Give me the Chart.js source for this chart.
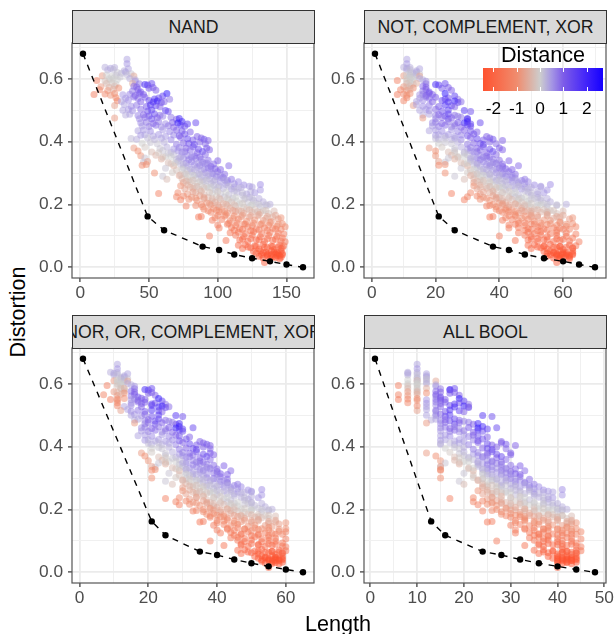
<!DOCTYPE html>
<html>
<head>
<meta charset="utf-8">
<title>Distortion vs Length</title>
<script src="https://cdn.jsdelivr.net/npm/chart.js@4"></script>
<style>
  body { margin: 0; background: #fff; font-family: "Liberation Sans", Arial, sans-serif; }
  #page { position: relative; width: 615px; height: 634px; overflow: hidden; }
  canvas { position: absolute; }
  .strip { position: absolute; box-sizing: border-box; width: 243px; height: 34px; background: #d9d9d9;
           border: 1.5px solid #333; overflow: hidden; color: #1a1a1a; font-size: 17.7px; }
  .strip span { position: absolute; left: 50%; top: 50%; transform: translate(-50%, -50%); white-space: nowrap; }
  .title { position: absolute; color: #000; font-size: 21.6px; white-space: nowrap; }
  #legendBar { position: absolute; left: 483px; top: 68px; width: 120px; height: 23px; }
  .legendLabel { position: absolute; top: 98px; font-size: 17.3px; color: #000; transform: translateX(-50%); }
  .legendTick { position: absolute; width: 1px; height: 4px; background: #fff; }
</style>
</head>
<body>
<div id="page"></div>
<script>
// Valeurs: une ligne = une bande de Distortion
const distortion = [
  .662,
  .648,
  .637,.634,.636,
  .628,.63,.626,.632,
  .62,.618,.622,.616,
  .61,.612,.608,.611,.606,.613,.609,
  .6,.602,.598,.601,.597,
  .595,.593,.596,.592,
  .585,.587,.583,.586,.584,.582,.58,.585,
  .575,.573,.577,.571,.576,.574,.57,.572,
  .565,.563,.567,.561,.566,.558,.564,
  .55,.552,.548,.553,.549,.551,.547,.554,.55,.553,.545,
  .54,.538,.542,.537,.541,.536,.539,.535,
  .53,.528,.532,.527,.531,.526,.529,.525,.527,
  .515,.518,.513,.516,.512,.517,.514,.511,
  .5,.502,.498,.503,.497,.501,.499,.496,
  .485,.487,.483,.486,.482,.488,.484,.481,
  .475,.473,.477,.472,.476,.478,.471,.474,
  .46,.462,.458,.463,.457,.461,.459,.464,.456,.46,
  .45,.448,.452,.447,.451,.446,.453,.449,
  .435,.437,.433,.438,.432,.436,.434,.431,
  .42,.422,.418,.423,.417,.421,.419,.424,.416,
  .41,.408,.412,.407,.411,.406,.413,.409,.405,.412,.408,.404,
  .395,.397,.393,.398,.392,.396,.394,.391,.399,.393,
  .38,.382,.378,.383,.377,.381,.379,.384,.376,.38,
  .37,.367,.372,.366,.371,.368,.373,.365,.369,.374,
  .355,.357,.353,.358,.352,.356,.354,.351,.359,
  .345,.348,.343,.347,.342,.346,.344,.341,
  .335,.337,.333,.338,.332,.336,.334,.331,.339,
  .325,.327,.323,.328,.322,.326,.324,.321,.329,.323,
  .315,.317,.313,.318,.312,.316,.314,.311,
  .3,.302,.298,.303,.297,.301,.299,.304,.296,
  .29,.292,.288,.293,.287,.291,.289,.286,
  .28,.282,.278,.283,.277,.281,.279,.284,.276,.28,
  .27,.272,.268,.273,.267,.271,.269,.266,
  .26,.262,.258,.263,.257,.261,.259,.264,.262,.258,.264,.256,
  .25,.252,.248,.253,.247,.251,.249,.254,.246,
  .235,.237,.233,.238,.232,.236,.234,.231,.239,.233,.237,
  .225,.227,.223,.228,.222,.226,.224,.221,.229,.223,
  .215,.217,.213,.218,.212,.216,.214,.211,.219,.213,
  .205,.207,.203,.208,.202,.206,.204,.209,.201,
  .195,.197,.193,.198,.192,.196,.194,.191,.199,.193,.197,
  .185,.187,.183,.188,.182,.186,.184,.181,
  .175,.177,.173,.178,.172,.176,.174,.171,
  .16,.162,.158,.163,.157,.161,.159,.164,.156,.16,.158,
  .15,.152,.148,.153,.147,.151,.149,.146,.154,
  .135,.137,.133,.138,.132,.136,.134,.131,.139,
  .125,.127,.123,.128,.122,.126,.124,.121,.129,
  .11,.112,.108,.113,.107,.111,.109,.106,
  .1,.102,.098,.103,.097,.101,.099,
  .085,.087,.083,.088,.082,.086,.084,.081,
  .07,.072,.068,.073,.067,.071,.069,
  .06,.062,.058,.063,.057,.061,
  .05,.052,.048,.053,.047,.051,
  .045,.046,.043,.047,.042,.044,
  .035,.037,.033,.038,.032,
  .03,.028,.031,.027,
  .015,
  .365,.363,.367,
  .35,.352,.348,.351,
  .33,.332,.328,.331,.329,
  .31,.312,.308,.311,.309,.313,
  .295,.297,.293,.296,.294,.298,.292,
  .275,.277,.273,.276,.274,.278,.272,
  .255,.257,.253,.256,.254,.258,.252,.256,
  .24,.242,.238,.241,.239,.243,.237,.241,
  .22,.222,.218,.221,.219,.223,.217,.221,.219,
  .2,.202,.198,.201,.199,.203,.197,.201,.199,
  .18,.182,.178,.181,.179,.183,.177,.181,.179,
  .165,.167,.163,.166,.164,.168,.162,.166,
  .14,.142,.138,.141,.139,.143,.137,
  .118,.12,.116,.119,.117,.121,
  .09,.092,.088,.091,.089,.093,
  .065,.067,.063,.066,.064,.062,
  .04,.041,.039,.042,.038,.04
];
const distance = [
  .4,
  .5,
  .3,.4,.3,
  .3,.2,.3,.4,
  .1,.2,.4,.1,
  -.8,0,0,.1,.1,.2,-.6,
  0,0,0,.3,.3,
  -1.3,-.2,0,.5,
  -.3,-.1,0,-.5,.8,2,1.6,1.4,
  -.8,-.4,-.3,-1,.9,1,1.2,1.1,
  -1.2,-.8,-.5,.8,1,1.2,1,
  -1.4,-1.1,-.9,-1,.5,.7,1,1.1,1.1,2.4,1.6,
  -1.1,.5,.9,.9,1.1,1.7,1.3,.8,
  -1.2,.4,.6,1,1.4,1.8,2.1,1.5,.9,
  -.7,.4,.6,.8,1.2,1.8,1.5,1,
  .4,.5,.6,.9,1.3,1.6,1.7,1.3,
  .3,.4,.7,1,1.3,1.4,.9,.7,
  -.8,.6,.9,1.3,1,.8,1,2,
  .6,.8,1,.8,.6,1.1,2.3,2,1.6,1.4,
  .5,.8,.9,.6,.8,1,1.6,1.3,
  .4,.5,.6,.5,.7,1,1.2,1,
  .5,.4,.4,.5,.5,.7,1.2,1.2,1,
  .2,.3,.2,.3,.4,.7,1,1.4,1.1,1,1.2,1,
  0,.1,.1,.3,.8,1,1.3,1.4,1,.9,
  -.8,-.1,.1,.3,.5,.7,1,1.2,1.3,1.1,
  -1,-.3,.1,.3,.6,.8,.9,1,1.4,1,
  -.9,-.4,0,.2,.5,.7,.9,.9,.9,
  -.5,.1,.2,.5,.8,.8,.8,.9,
  .1,-.7,-.3,.3,.6,.7,.7,.7,1,
  -1.1,-1,-.5,.2,.4,.6,.8,1,.9,.9,
  .1,.2,.4,.5,.6,.8,1.1,1,
  -1,-.1,.1,.3,.4,.6,.9,.9,.9,
  .1,-.6,0,.2,.3,.4,.7,.8,
  -.3,-.4,-.1,.1,.3,.4,.5,.6,.7,.8,
  -.7,-.2,0,.2,.3,.5,.6,.5,
  -.9,-.5,-.2,0,.1,.3,.3,.4,.6,.5,.6,.4,
  -.7,-.4,-.1,0,.2,.3,.5,.3,.5,
  -1.3,-1.1,-.8,-.5,-.3,0,.1,.2,.3,.4,.5,
  -1.2,-1.1,-.8,-.7,-.4,-.1,.1,.1,.2,.3,
  -1.3,-1,-.9,-.6,-.3,-.3,0,0,.1,.2,
  -.9,-.6,-.5,-.2,0,.1,.1,.3,.3,
  -1.3,-1.1,-1,-.8,-.7,-.4,-.2,-.1,0,.1,.1,
  -1,-1,-.9,-.6,-.4,-.3,-.2,-.1,
  -1.2,-1.1,-.8,-.7,-.6,-.4,-.3,-.2,
  -1.5,-1.4,-1.2,-1,-.9,-.8,-.7,-.6,-.5,-.5,-.9,
  -1.4,-1.3,-1.1,-1.1,-1,-.9,-.8,-.8,-.8,
  -1.4,-1.4,-1.3,-1.2,-1.2,-1.1,-1,-1.1,-1,
  -1.4,-1.5,-1.5,-1.4,-1.4,-1.3,-1.2,-1.2,-1.1,
  -1.5,-1.5,-1.6,-1.6,-1.5,-1.4,-1.4,-1.3,
  -1.4,-1.6,-1.7,-1.7,-1.7,-1.6,-1.6,
  -1.6,-1.7,-1.8,-1.9,-1.8,-1.8,-1.6,-1.4,
  -1.8,-1.9,-2,-2,-2,-1.9,-1.6,
  -1.8,-2,-2.1,-2.1,-2.1,-2,
  -2.2,-2.2,-2.2,-2.2,-2.2,-2.2,
  -2.2,-2.3,-2.3,-2.4,-2.4,-2.3,
  -2.3,-2.3,-2.4,-2.4,-2.4,
  -2.4,-2.4,-2.4,-2.4,
  -2.2,
  -.1,.1,.6,
  -.2,0,.3,.7,
  -.2,0,.3,.5,.6,
  -.2,0,.1,.3,.4,.7,
  -.3,-.1,0,.2,.3,.5,.6,
  -.4,-.2,-.1,.1,.2,.4,.6,
  -.5,-.3,-.2,0,.1,.2,.3,.4,
  -.7,-.5,-.2,-.1,0,.2,.2,.3,
  -.9,-.7,-.4,-.3,-.1,0,.1,.2,.3,
  -1,-.8,-.6,-.5,-.3,-.1,0,.1,.2,
  -1.1,-1,-.9,-.7,-.5,-.4,-.3,-.2,-.3,
  -1.2,-1.1,-1,-.8,-.7,-.6,-.6,-.6,
  -1.3,-1.3,-1.2,-1.1,-1,-1,-.9,
  -1.5,-1.5,-1.5,-1.4,-1.3,-1.3,
  -1.8,-1.8,-1.8,-1.7,-1.7,-1.5,
  -2,-2.1,-2.1,-2.1,-2,-1.9,
  -2.4,-2.4,-2.4,-2.4,-2.4,-2.3
];
const nandLength = [
  34,
  34,
  18,22,25,
  20,24,32,35,
  27,30,33,37,
  16,19,23,26,29,34,39,
  21,24,27,36,40,
  12,18,22,40,
  19,23,26,38,43,47,49,52,
  15,21,25,28,39,41,50,53,
  14,20,24,38,42,44,55,
  10,18,22,25,31,36,40,43,46,63,60,
  26,33,39,42,47,54,57,65,
  27,30,35,44,50,53,56,59,61,
  25,32,37,41,48,51,55,58,
  31,35,38,44,49,52,62,64,
  33,36,42,46,50,54,58,60,
  25,43,47,52,56,66,70,72,
  44,48,53,57,62,67,71,74,78,84,
  45,50,55,59,64,68,73,76,
  42,46,51,60,65,70,74,80,
  44,47,53,57,62,68,72,76,85,
  37,41,49,54,59,66,73,78,82,88,90,93,
  45,51,56,61,70,75,79,83,87,91,
  39,47,58,63,68,72,77,82,86,92,
  42,52,60,66,71,76,80,85,89,94,
  44,55,62,68,73,78,83,87,91,
  59,47,70,75,79,84,88,93,
  46,49,64,71,77,81,89,92,100,
  45,48,68,73,78,83,87,95,97,108,
  62,75,80,85,90,93,98,102,
  54,67,76,81,86,91,96,100,105,
  60,72,78,83,88,93,99,104,
  63,74,79,84,89,94,98,103,107,110,
  75,80,85,90,95,102,107,112,
  73,78,83,88,92,97,101,106,119,123,131,112,
  76,82,87,93,98,104,110,117,131,
  57,71,78,84,90,96,102,108,114,121,127,
  70,75,81,87,93,99,105,111,118,123,
  73,79,85,90,96,102,108,114,120,126,
  92,98,104,110,116,122,128,133,138,
  77,84,89,95,101,107,113,119,125,131,136,
  90,97,103,109,115,121,127,133,
  95,101,107,113,119,125,131,137,
  86,88,98,105,111,117,123,129,135,140,146,
  96,103,109,115,121,127,133,139,144,
  100,107,113,119,125,131,137,143,147,
  101,110,116,122,128,134,140,146,149,
  109,115,120,126,132,138,144,148,
  94,113,119,125,131,137,143,
  106,116,122,128,134,140,146,149,
  115,120,127,133,139,145,148,
  118,124,130,136,141,146,
  126,131,135,139,143,146,
  128,133,137,141,144,147,
  130,136,140,143,146,
  133,138,142,145,
  134,
  57,64,74,
  60,66,72,81,
  66,69,75,86,91,
  70,74,78,83,88,95,
  73,77,82,87,92,97,102,
  77,82,87,92,97,105,115,
  80,85,90,95,100,108,115,125,
  82,88,94,100,106,112,118,124,
  84,90,96,101,107,113,119,125,130,
  88,94,100,106,112,118,124,130,135,
  93,99,105,111,117,123,129,135,141,
  100,106,112,118,124,130,136,142,
  108,114,120,126,132,138,144,
  112,118,124,130,136,142,
  118,124,130,136,142,147,
  122,128,134,140,144,147,
  132,136,139,142,145,147
];
const notLength = [
  11,
  11,
  10,11,12,
  11,12,14,15,
  12,13,14,15,
  10,11,12,12,13,14,15,
  11,12,13,15,16,
  8,11,12,17,
  11,12,13,14,17,20,21,23,
  10,11,12,13,16,17,22,24,
  9,11,12,16,17,18,25,
  8,10,11,12,15,16,17,18,19,23,26,
  11,15,17,18,20,23,24,27,
  10,14,16,19,22,24,26,27,28,
  13,14,16,18,21,23,25,26,
  15,17,18,20,22,24,29,31,
  16,18,20,21,23,24,26,27,
  16,20,22,24,25,28,30,30,
  19,20,22,24,26,27,29,30,31,34,
  19,21,23,25,26,28,30,31,
  18,20,22,25,27,29,31,33,
  20,21,23,24,26,28,30,32,36,
  20,21,23,25,26,28,31,33,35,37,38,41,
  21,23,25,27,30,32,34,35,37,39,
  18,22,26,28,30,31,33,35,37,40,
  20,24,26,29,31,33,34,36,38,41,
  20,25,27,30,32,34,36,37,39,
  26,24,31,33,34,36,38,40,
  23,21,28,31,33,35,38,39,43,
  21,23,30,32,34,36,37,41,41,46,
  28,33,35,37,39,40,42,44,
  23,30,33,35,37,39,41,43,45,
  26,31,34,36,38,40,42,44,
  29,32,34,37,39,41,43,45,47,48,
  32,35,37,39,41,44,46,48,
  32,34,36,38,40,42,44,46,51,53,56,48,
  33,36,38,40,42,45,47,50,55,
  25,31,34,37,39,41,44,46,49,52,54,
  30,33,35,38,40,43,45,47,50,52,
  29,34,37,39,41,44,46,49,51,53,
  40,42,45,47,49,52,54,56,61,
  36,37,39,41,43,46,48,50,53,55,58,
  39,42,44,47,49,51,54,56,
  41,43,46,48,50,53,55,58,
  37,38,42,45,47,50,52,55,57,59,63,
  41,44,46,49,51,54,56,59,62,
  43,45,48,50,53,55,58,61,63,
  43,46,49,52,54,57,59,62,64,
  46,49,51,53,56,58,61,64,
  40,48,50,53,55,58,61,
  45,49,52,54,57,59,62,65,
  49,51,54,56,59,62,64,
  50,53,55,58,60,63,
  54,56,57,59,61,63,
  55,57,58,60,61,63,
  55,58,59,61,62,
  57,59,60,62,
  58,
  26,29,32,
  27,29,31,35,
  29,30,33,37,39,
  31,32,34,36,38,41,
  32,33,35,37,40,42,44,
  33,35,37,40,42,45,49,
  34,37,39,41,43,46,49,53,
  35,38,41,43,45,48,50,52,
  36,39,41,43,46,48,50,53,55,
  38,41,43,45,48,50,52,55,58,
  40,42,45,47,50,52,55,57,60,
  43,45,48,50,52,55,58,60,
  46,48,51,53,56,59,61,
  48,50,52,55,58,60,
  50,52,55,58,60,63,
  52,54,57,59,61,63,
  56,58,59,60,62,63
];
const norLength = [
  11,
  11,
  9,10,11,
  10,11,13,14,
  12,12,13,14,
  10,11,11,12,13,13,14,
  11,12,12,14,15,
  8,11,12,16,
  12,12,13,13,16,19,20,21,
  10,11,13,13,15,16,20,21,
  7,11,12,15,16,17,22,
  9,11,11,13,15,16,17,18,19,23,24,
  11,15,17,18,19,21,22,25,
  11,13,15,18,21,23,24,25,26,
  12,14,15,17,19,21,23,24,
  15,16,18,19,21,23,28,30,
  16,17,19,20,22,23,25,26,
  16,19,20,22,24,27,28,29,
  18,19,21,23,25,26,28,29,30,33,
  18,20,22,24,25,27,29,30,
  17,19,21,24,26,28,29,32,
  19,20,22,23,25,27,29,31,35,
  20,21,23,24,26,28,30,32,34,36,37,38,
  21,23,24,26,29,31,33,34,36,38,
  18,21,25,27,29,30,32,34,36,38,
  19,23,25,28,30,32,33,35,37,39,
  20,24,26,29,31,33,35,36,38,
  25,23,29,31,33,35,37,39,
  22,21,27,30,32,34,37,38,42,
  21,22,29,31,33,35,36,40,40,44,
  26,31,33,35,37,39,41,43,
  21,28,31,33,35,37,39,41,43,
  25,30,32,34,36,38,41,43,
  27,31,33,35,37,39,41,43,45,46,
  30,33,35,37,39,42,44,46,
  30,32,34,36,38,40,42,44,49,50,53,46,
  31,34,36,38,40,43,45,48,53,
  25,29,32,34,37,39,42,44,47,49,52,
  28,31,33,36,38,41,43,45,48,50,
  29,32,35,37,39,42,44,46,49,51,
  38,40,43,45,47,50,52,54,56,
  33,34,36,39,41,44,46,48,50,53,55,
  37,39,42,44,47,49,52,54,
  38,41,43,46,48,51,53,55,
  35,36,40,42,45,47,50,52,55,57,60,
  39,42,44,46,49,51,54,56,58,
  40,43,45,48,50,52,55,58,60,
  41,44,47,49,52,54,56,59,60,
  44,46,48,51,53,55,57,60,
  38,46,48,50,53,55,57,
  42,47,49,52,54,56,59,60,
  46,48,51,53,56,58,60,
  47,50,52,55,57,59,
  51,53,54,56,57,59,
  52,54,55,57,58,59,
  53,55,56,57,59,
  54,56,57,58,
  55,
  25,27,31,
  25,28,30,34,
  28,29,31,36,38,
  29,31,32,34,36,40,
  30,32,34,36,38,40,42,
  32,34,36,38,40,43,47,
  33,35,37,39,41,44,47,50,
  34,36,39,41,43,45,48,50,
  34,37,39,41,44,46,48,50,53,
  36,38,41,43,45,48,50,53,55,
  38,40,42,45,47,50,52,55,57,
  40,43,45,48,50,52,55,57,
  43,46,48,51,53,55,58,
  45,47,50,52,55,57,
  47,50,52,55,57,59,
  49,52,54,56,58,59,
  53,55,56,57,58,59
];
const allLength = [
  10,
  10,
  8,8,10,
  8,10,12,12,
  10,10,12,12,
  10,8,10,10,12,12,14,
  8,10,10,12,14,
  6,8,10,14,
  8,10,10,12,15,17,17,18,
  8,10,10,12,14,15,17,18,
  6,8,10,14,14,15,19,
  6,8,10,10,12,14,15,15,16,19,20,
  8,12,14,15,16,18,19,21,
  10,12,14,15,17,18,20,21,21,
  10,12,14,14,16,17,19,20,
  12,14,14,15,16,17,24,26,
  13,14,15,16,17,18,19,20,
  12,15,16,18,19,21,22,23,
  15,16,17,18,19,21,23,24,25,27,
  15,17,18,19,20,22,23,24,
  15,16,17,20,21,22,23,25,
  15,16,18,19,20,22,23,24,28,
  15,15,17,18,19,21,23,25,26,28,29,31,
  16,18,19,20,22,24,25,26,27,29,
  12,17,19,20,22,23,25,26,27,30,
  14,18,20,21,23,24,25,27,28,30,
  15,18,20,22,23,25,26,28,29,
  19,16,23,24,25,27,28,30,
  15,15,21,23,25,26,28,29,32,
  15,15,22,24,25,26,28,30,31,33,
  20,24,25,27,28,29,31,32,
  15,22,24,26,27,29,30,32,34,
  19,23,25,26,28,29,31,33,
  20,24,25,27,28,30,31,33,34,35,
  24,25,27,28,30,32,34,35,
  23,25,26,28,29,31,32,34,37,38,41,35,
  24,26,27,29,31,33,35,37,41,
  17,22,25,26,28,30,32,34,36,38,39,
  22,24,26,27,29,31,33,35,37,38,
  23,25,27,28,30,32,34,36,37,39,
  29,31,33,35,36,38,40,41,42,
  24,26,28,30,32,33,35,37,39,40,41,
  28,30,32,34,36,38,39,41,
  30,32,33,35,37,39,40,42,
  25,26,31,33,35,36,38,40,42,43,44,
  30,32,34,36,38,39,41,42,43,
  31,33,35,37,38,40,41,43,44,
  31,34,36,37,39,41,42,44,45,
  34,36,37,38,40,42,43,45,
  27,35,37,38,40,41,43,
  33,36,37,39,41,42,44,45,
  35,37,39,41,42,44,45,
  36,38,40,41,43,44,
  38,40,41,42,43,44,
  39,40,41,42,43,44,
  40,41,42,43,44,
  40,41,42,43,
  40,
  19,21,24,
  19,21,23,26,
  21,22,24,27,29,
  22,24,25,26,28,30,
  23,24,26,27,29,31,32,
  24,26,27,29,31,33,36,
  25,27,28,30,32,34,36,39,
  26,28,30,32,33,35,37,38,
  26,28,30,32,33,35,37,39,40,
  27,29,31,33,35,37,38,40,41,
  29,31,33,34,36,38,40,41,43,
  31,33,35,37,38,40,42,43,
  33,35,37,38,40,42,43,
  35,36,38,40,41,43,
  36,38,40,41,43,44,
  37,39,41,42,43,44,
  40,41,42,42,43,44
];

// Front (courbe noire en pointilles)
const frontDistortion = [.68,.162,.118,.066,.055,.041,.029,.019,.009,0];
const nandFront = [2,49,61,89,101,112,125,138,150,162];
const notFront = [1,21,26,38,43,48,54,60,65,70];
const norFront = [1,21,25,35,40,45,50,55,60,65];
const allFront = [1,13,16,24,28,32,36,40,44,48];

const yMajor = [0,.2,.4,.6];
const yMinor = [.1,.3,.5,.7];
const legendTicks = [-2,-1,0,1,2];

const panels = [
  { name: 'NAND', left: 72, top: 43, xs: nandLength, front: nandFront, min: -6, max: 170, major: [0,50,100,150], minor: [25,75,125] },
  { name: 'NOT, COMPLEMENT, XOR', left: 364, top: 43, xs: notLength, front: notFront, min: -2.45, max: 73.45, major: [0,20,40,60], minor: [10,30,50,70] },
  { name: 'NOR, OR, COMPLEMENT, XOR', left: 72, top: 348, xs: norLength, front: norFront, min: -2.2, max: 68.2, major: [0,20,40,60], minor: [10,30,50] },
  { name: 'ALL BOOL', left: 364, top: 348, xs: allLength, front: allFront, min: -1.35, max: 50.35, major: [0,10,20,30,40,50], minor: [5,15,25,35,45] }
];

// Degrade du legende, rouge -> gris -> bleu
const colorStops = [
  [-2.5, [255,80,45]],
  [-1, [240,140,110]],
  [0, [205,205,205]],
  [.5, [165,150,228]],
  [1, [125,92,232]],
  [2, [65,35,250]],
  [2.7, [20,0,255]]
];

function distanceColor(d, alpha) {
  let i = 0;
  while (i < colorStops.length - 2 && d > colorStops[i + 1][0]) i++;
  const a = colorStops[i], b = colorStops[i + 1];
  const t = Math.max(0, Math.min(1, (d - a[0]) / (b[0] - a[0])));
  const c = a[1].map((v, k) => Math.round(v + (b[1][k] - v) * t));
  return `rgba(${c[0]},${c[1]},${c[2]},${alpha})`;
}

const page = document.getElementById('page');

const panelBorder = {
  id: 'panelBorder',
  afterDatasetsDraw(chart) {
    const a = chart.chartArea, c = chart.ctx;
    c.save();
    c.strokeStyle = '#555';
    c.lineWidth = 1.2;
    c.strokeRect(a.left, a.top, a.width, a.height);
    c.restore();
  }
};

function axisGrid(major) {
  return {
    color: c => major.includes(c.tick.value) ? '#ebebeb' : '#f0f0f0',
    lineWidth: c => major.includes(c.tick.value) ? 1.8 : 1,
    tickColor: c => major.includes(c.tick.value) ? '#333' : 'rgba(0,0,0,0)',
    tickWidth: 1.2,
    tickLength: 4,
    drawOnChartArea: true
  };
}

panels.forEach(p => {
  const canvas = document.createElement('canvas');
  canvas.width = 291;
  canvas.height = 267;
  canvas.style.left = (p.left - 40) + 'px';
  canvas.style.top = (p.top - 2) + 'px';
  page.appendChild(canvas);

  new Chart(canvas.getContext('2d'), {
    type: 'scatter',
    data: {
      datasets: [
        {
          data: p.front.map((x, i) => ({ x: x, y: frontDistortion[i] })),
          showLine: true,
          borderColor: '#000',
          borderWidth: 1.4,
          borderDash: [6, 6],
          backgroundColor: '#000',
          pointRadius: 3.2,
          pointBorderWidth: 0
        },
        {
          data: p.xs.map((x, i) => ({ x: x, y: distortion[i] })),
          pointBackgroundColor: distance.map(d => distanceColor(d, 0.5)),
          pointRadius: 3.5,
          pointBorderWidth: 0
        }
      ]
    },
    options: {
      responsive: false,
      animation: false,
      layout: { autoPadding: false, padding: { top: 2, right: 9, left: 0, bottom: 0 } },
      plugins: { legend: { display: false }, tooltip: { enabled: false } },
      scales: {
        x: {
          type: 'linear',
          min: p.min,
          max: p.max,
          afterFit: s => { s.height = 30; s.paddingLeft = 0; s.paddingRight = 0; },
          afterBuildTicks: s => { s.ticks = p.major.concat(p.minor).map(v => ({ value: v })); },
          border: { display: false },
          grid: axisGrid(p.major),
          ticks: {
            autoSkip: false,
            maxRotation: 0,
            padding: 1,
            color: '#4d4d4d',
            font: { family: '"Liberation Sans"', size: 17.3 },
            callback: v => p.major.includes(v) ? String(v) : ''
          }
        },
        y: {
          type: 'linear',
          min: -0.034,
          max: 0.714,
          afterFit: s => { s.width = 40; s.paddingTop = 0; s.paddingBottom = 0; },
          afterBuildTicks: s => { s.ticks = yMajor.concat(yMinor).map(v => ({ value: v })); },
          border: { display: false },
          grid: axisGrid(yMajor),
          ticks: {
            autoSkip: false,
            padding: 5,
            color: '#4d4d4d',
            font: { family: '"Liberation Sans"', size: 17.3 },
            callback: v => yMajor.includes(v) ? v.toFixed(1) : ''
          }
        }
      }
    },
    plugins: [panelBorder]
  });

  const strip = document.createElement('div');
  strip.className = 'strip';
  strip.style.left = p.left + 'px';
  strip.style.top = (p.top - 33) + 'px';
  const label = document.createElement('span');
  label.textContent = p.name;
  strip.appendChild(label);
  page.appendChild(strip);
});

function addTitle(text, css) {
  const el = document.createElement('div');
  el.className = 'title';
  el.textContent = text;
  Object.assign(el.style, css);
  page.appendChild(el);
}
addTitle('Length', { left: '338px', top: '611px', transform: 'translateX(-50%)' });
addTitle('Distortion', { left: '18px', top: '312px', transform: 'translate(-50%,-50%) rotate(-90deg)' });
addTitle('Distance', { left: '543px', top: '42px', transform: 'translateX(-50%)' });

// Legende de couleur
const bar = document.createElement('div');
bar.id = 'legendBar';
const barMin = -2.45, barMax = 2.7;
bar.style.background = 'linear-gradient(to right,' + colorStops.map(s =>
  `${distanceColor(s[0], 1)} ${((s[0] - barMin) / (barMax - barMin) * 100).toFixed(1)}%`).join(',') + ')';
page.appendChild(bar);
legendTicks.forEach(v => {
  const x = 483 + (v - barMin) / (barMax - barMin) * 120;
  [68, 87].forEach(t => {
    const tick = document.createElement('div');
    tick.className = 'legendTick';
    tick.style.left = x + 'px';
    tick.style.top = t + 'px';
    page.appendChild(tick);
  });
  const lab = document.createElement('div');
  lab.className = 'legendLabel';
  lab.style.left = x + 'px';
  lab.textContent = String(v);
  page.appendChild(lab);
});
</script>
</body>
</html>
